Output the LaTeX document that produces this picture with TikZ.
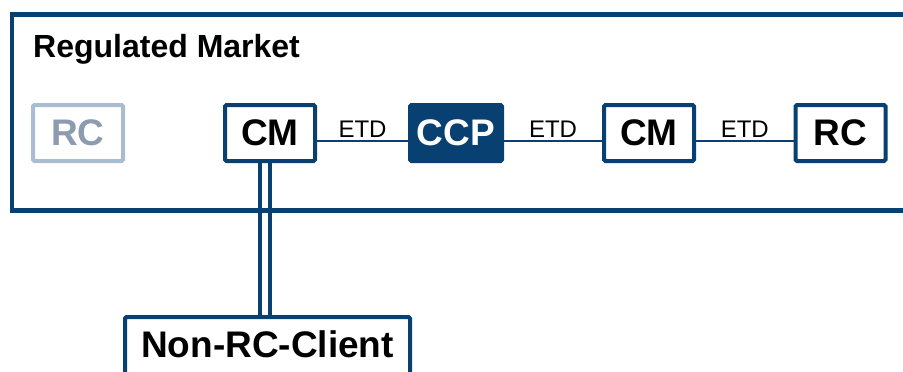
\documentclass[tikz,border=0pt]{standalone}
\usepackage{fontspec}
\setmainfont{Liberation Sans}
\definecolor{navy}{RGB}{8,64,114}
\definecolor{grayframe}{RGB}{168,188,210}
\definecolor{graytext}{RGB}{140,155,176}
\begin{document}
\begin{tikzpicture}[x=1pt,y=-1pt,
  box/.style={draw=navy, line width=4pt, fill=white, rounded corners=1.5pt, minimum width=90pt, minimum height=56pt, inner sep=0pt,
    font=\fontsize{37}{37}\selectfont\bfseries, text height=25pt, text depth=0pt},
  ghost/.style={box, draw=grayframe, text=graytext},
  ccpbox/.style={box, fill=navy, text=white, minimum width=92pt},
  conn/.style={draw=navy, line width=1.5pt},
  etd/.style={font=\fontsize{24}{24}\selectfont, inner sep=0pt, anchor=south},
  frame/.style={draw=navy, line width=4.5pt}]
\useasboundingbox (0,0) rectangle (903,372);
\clip (0,0) rectangle (903,372);
\fill[white] (0,0) rectangle (903,372);
% market frame
\draw[frame] (12,14.5) rectangle (930,210.5);
\node[anchor=base west, inner sep=0pt, font=\fontsize{32}{32}\selectfont\bfseries] (title) at (33,57) {Regulated Market};
% nodes
\node[ghost] (rc1) at (78,133) {RC};
\node[box] (cm1) at (270,133) {CM};
\node[ccpbox] (ccp) at (456,133) {CCP};
\node[box] (cm2) at (649,133) {CM};
\node[box] (rc2) at (840.5,133) {RC};
\node[box, minimum width=285pt, minimum height=80pt, text height=25pt, text depth=25pt] (nrc) at (267.5,357) {Non-RC-Client};
\coordinate (ly) at (0,141);
% connectors
\draw[conn] (cm1.east |- ly) -- (ccp.west |- ly) node[etd, midway, above=3pt] (e1) {ETD};
\draw[conn] (ccp.east |- ly) -- (cm2.west |- ly) node[etd, midway, above=3pt] (e2) {ETD};
\draw[conn] (cm2.east |- ly) -- (rc2.west |- ly) node[etd, midway, above=3pt] (e3) {ETD};
% double link
\draw[draw=navy, line width=4pt] ([xshift=-10pt]cm1.south) -- ([xshift=-10pt]cm1.south |- nrc.north);
\draw[draw=navy, line width=4pt] (cm1.south) -- (cm1.south |- nrc.north);
\end{tikzpicture}
\end{document}
